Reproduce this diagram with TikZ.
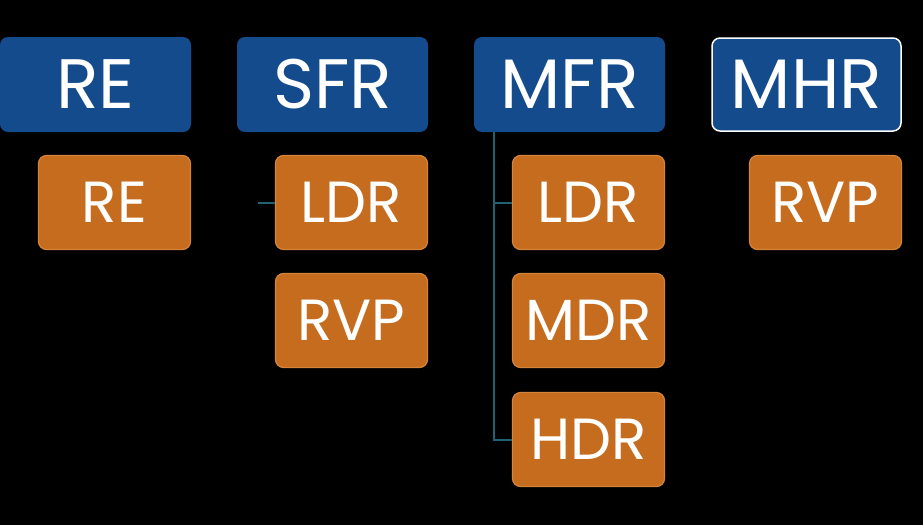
\documentclass[tikz,border=0pt]{standalone}
\usepackage{fontspec}
\setmainfont{Poppins}
\usetikzlibrary{calc}
\definecolor{hblue}{RGB}{20,75,140}
\definecolor{horange}{RGB}{197,108,30}
\definecolor{horangeline}{RGB}{214,132,58}
\definecolor{hlink}{RGB}{32,98,116}

\begin{document}
\begin{tikzpicture}[
  x=1pt, y=-1pt,
  box/.style={rounded corners=8pt, inner sep=0pt, text=white, align=center},
  head/.style={box, fill=hblue, minimum width=191pt, minimum height=95pt,
               font=\fontsize{70}{70}\selectfont},
  leaf/.style={box, fill=horange, draw=horangeline, line width=1.2pt,
               minimum width=152pt, minimum height=94pt,
               font=\fontsize{58}{58}\selectfont},
  link/.style={draw=hlink, line width=2pt},
]
  \fill[black] (0,0) rectangle (923,525);

  % top row
  \node[head] (re)  at (95.5,84.5)  {RE};
  \node[head] (sfr) at (332.5,84.5) {SFR};
  \node[head] (mfr) at (569.5,84.5) {MFR};
  \node[head, draw=white, line width=1.5pt, minimum width=189pt, minimum height=93pt]
    (mhr) at (806.5,84.5) {MHR};

  % second level
  \node[leaf] (rere)   at (114.5,202.5) {RE};
  \node[leaf] (sfrldr) at (351.5,202.5) {LDR};
  \node[leaf] (sfrrvp) at (351.5,320.5) {RVP};
  \node[leaf] (mfrldr) at (588.5,202.5) {LDR};
  \node[leaf] (mfrmdr) at (588.5,320.5) {MDR};
  \node[leaf] (mfrhdr) at (588.5,439.5) {HDR};
  \node[leaf] (mhrrvp) at (825.5,202.5) {RVP};

  % connectors
  \coordinate (sfrstub) at (258,202.5);
  \coordinate (mfrbus)  at (494,132);
  \draw[link] (sfrstub) -- (sfrldr.west);
  \draw[link] (mfrbus) |- (mfrhdr.west);
  \draw[link] (mfrbus |- mfrldr.west) -- (mfrldr.west);
\end{tikzpicture}
\end{document}
